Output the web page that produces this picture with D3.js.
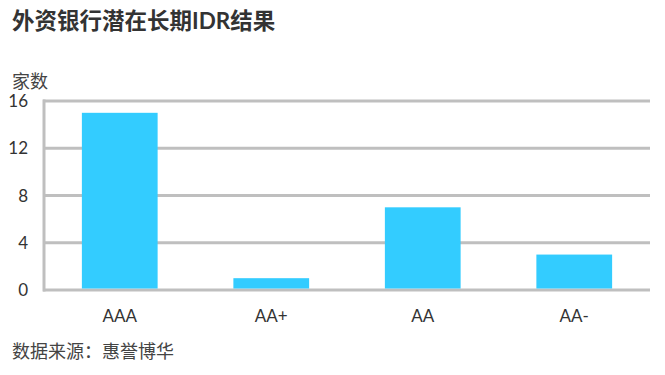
<!DOCTYPE html>
<html>
<head>
<meta charset="utf-8">
<script src="https://cdn.jsdelivr.net/npm/d3@7"></script>
<style>
  body { margin: 0; background: #fff; }
  text { font-family: "Lato", "Noto Sans CJK SC", sans-serif; fill: #333; }
</style>
</head>
<body>
<svg id="chart" width="665" height="375"></svg>
<script>
// data
var categories = ["AAA", "AA+", "AA", "AA-"];
var counts = [15, 1, 7, 3];
var yTicks = [0, 4, 8, 12, 16];

var svg = d3.select("#chart");
var plotLeft = 44, plotRight = 650, plotTop = 101, plotBottom = 290;

var x = d3.scaleBand().domain(categories).range([plotLeft, plotRight])
    .paddingInner(0.5).paddingOuter(0.25);
var y = d3.scaleLinear().domain([0, 16]).range([plotBottom, plotTop]);

// title
svg.append("text")
    .attr("x", 12).attr("y", 29)
    .style("font-size", "22.5px").style("font-weight", "bold")
    .text("外资银行潜在长期IDR结果");

// unit label
svg.append("text")
    .attr("x", 12).attr("y", 88)
    .style("font-size", "18px").style("fill", "#444")
    .text("家数");

// gridlines
svg.selectAll("line.grid").data(yTicks).enter().append("line")
    .attr("class", "grid")
    .attr("x1", plotLeft - 1).attr("x2", plotRight)
    .attr("y1", function(d) { return y(d); })
    .attr("y2", function(d) { return y(d); })
    .attr("stroke", "#bfbfbf").attr("stroke-width", 3);

// left axis line
svg.append("line")
    .attr("x1", plotLeft).attr("x2", plotLeft)
    .attr("y1", y(16) - 1.5).attr("y2", y(0) + 1.5)
    .attr("stroke", "#bfbfbf").attr("stroke-width", 3);

// y tick labels
svg.selectAll("text.ytick").data(yTicks).enter().append("text")
    .attr("class", "ytick")
    .attr("x", 28)
    .attr("y", function(d) { return y(d); })
    .attr("dy", "0.36em")
    .attr("text-anchor", "end")
    .style("font-size", "17px")
    .text(function(d) { return d; });

// bars
svg.selectAll("rect.bar").data(counts).enter().append("rect")
    .attr("class", "bar")
    .attr("x", function(d, i) { return x(categories[i]); })
    .attr("width", x.bandwidth())
    .attr("y", function(d) { return y(d); })
    .attr("height", function(d) { return y(0) - 1.5 - y(d); })
    .attr("fill", "#33ccff");

// x labels
svg.selectAll("text.xtick").data(categories).enter().append("text")
    .attr("class", "xtick")
    .attr("x", function(d) { return x(d) + x.bandwidth() / 2; })
    .attr("y", 322)
    .attr("text-anchor", "middle")
    .style("font-size", "17px")
    .text(function(d) { return d; });

// source
svg.append("text")
    .attr("x", 12).attr("y", 358)
    .style("font-size", "18px").style("fill", "#444")
    .text("数据来源：惠誉博华");
</script>
</body>
</html>
